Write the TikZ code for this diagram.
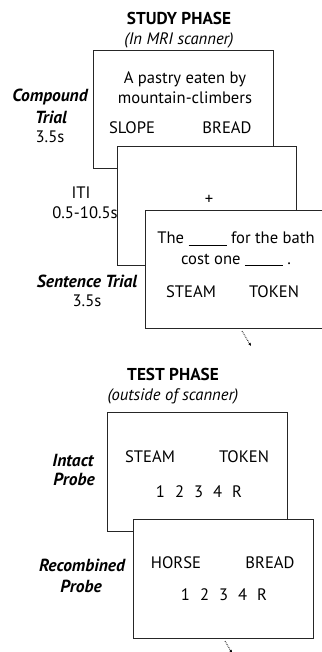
\documentclass[tikz,border=0pt]{standalone}
\usepackage{fontspec}
\setmainfont{PT Sans}
\usetikzlibrary{arrows.meta}
\begin{document}
\begin{tikzpicture}[x=1pt,y=-1pt,
  screen/.style={draw=black!85,line width=0.9pt,fill=white},
  txt/.style={inner sep=0pt,font=\fontsize{16.6}{18}\selectfont},
  lab/.style={inner sep=0pt,font=\fontsize{17.5}{19}\selectfont\bfseries\itshape,align=center},
  note/.style={inner sep=0pt,font=\fontsize{16.6}{18}\selectfont,align=center},
  ttl/.style={inner sep=0pt,font=\fontsize{17.2}{19}\selectfont\bfseries},
  sub/.style={inner sep=0pt,font=\fontsize{16.6}{18}\selectfont\itshape},
  flow/.style={densely dotted,line width=0.8pt,-{Latex[length=3pt,width=3pt]}}]
\useasboundingbox (0,0) rectangle (321,652);
% study phase
\node[ttl] (st) at (179,18) {STUDY PHASE};
\node[sub] (sts) at (179,40) {(In MRI scanner)};
\draw[screen] (93,50) rectangle (273,168);
\node[txt] (c1) at (185,79) {A pastry eaten by};
\node[txt] (c2) at (185,98) {mountain-climbers};
\node[txt] (c3) at (132,128) {SLOPE};
\node[txt] (c4) at (227,128) {BREAD};
\node[lab] (cl) at (50,97) {Compound};
\node[lab] (cl2) at (51,117) {Trial};
\node[note] (ct) at (50,137) {3.5s};
\draw[screen] (117,146) rectangle (296,265);
\node[txt] (plus) at (209,200) {+};
\node[note] (iti) at (81,193) {ITI};
\node[note] (itit) at (85,213) {0.5-10.5s};
\draw[screen] (145,210) rectangle (330,328);
\node[txt] (s1) at (236,239) {The \underline{\hspace{38pt}} for the bath};
\node[txt] (s2) at (236,260) {cost one \underline{\hspace{38pt}} .};
\node[txt] (s3) at (191,292) {STEAM};
\node[txt] (s4) at (274,292) {TOKEN};
\node[lab] (sl) at (87,281) {Sentence Trial};
\node[note] (stt) at (87,301) {3.5s};
\coordinate (a1) at (242,331);
\coordinate (a2) at (251,346);
\draw[flow] (a1) -- (a2);
% test phase
\node[ttl] (tp) at (173,374) {TEST PHASE};
\node[sub] (tps) at (173,396) {(outside of scanner)};
\draw[screen] (107,412) rectangle (287,531);
\node[txt] (i1) at (150,457) {STEAM};
\node[txt] (i2) at (244,457) {TOKEN};
\node[txt] (i3) at (199,492) {1\hspace{10pt}2\hspace{10pt}3\hspace{10pt}4\hspace{10pt}R};
\node[lab] (il) at (73,460) {Intact};
\node[lab] (il2) at (74,479) {Probe};
\draw[screen] (133,519) rectangle (313,638);
\node[txt] (r1) at (176,563) {HORSE};
\node[txt] (r2) at (270,563) {BREAD};
\node[txt] (r3) at (224,595) {1\hspace{10pt}2\hspace{10pt}3\hspace{10pt}4\hspace{10pt}R};
\node[lab] (rl) at (82,565) {Recombined};
\node[lab] (rl2) at (81,586) {Probe};
\coordinate (b1) at (225,641);
\coordinate (b2) at (232,653);
\draw[flow] (b1) -- (b2);
\end{tikzpicture}
\end{document}
